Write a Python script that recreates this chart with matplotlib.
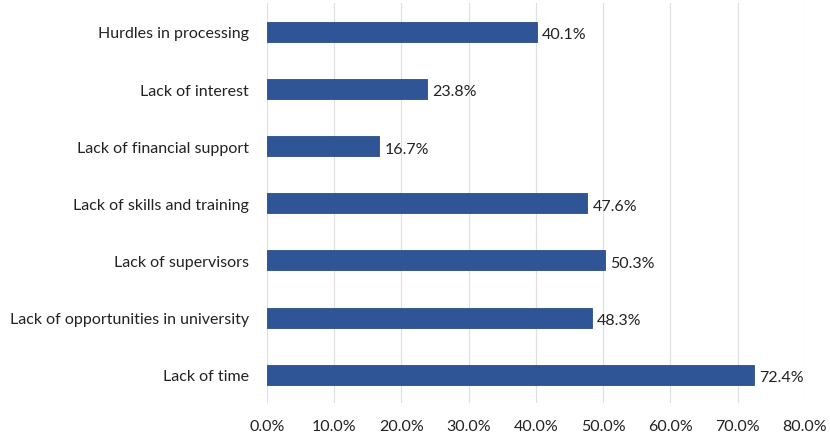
import matplotlib
matplotlib.use("Agg")
import matplotlib.pyplot as plt
import numpy as np

# ------------------------------------------------------------
# DATA
# ------------------------------------------------------------
categories = ["Lack of time",
              "Lack of opportunities in university",
              "Lack of supervisors",
              "Lack of skills and training",
              "Lack of financial support",
              "Lack of interest",
              "Hurdles in processing"]
values = [72.4, 48.3, 50.3, 47.6, 16.7, 23.8, 40.1]
xticks = [0, 10, 20, 30, 40, 50, 60, 70, 80]

plt.rcParams['font.family'] = ['Lato', 'DejaVu Sans']

# ------------------------------------------------------------
# BAR CHART
# ------------------------------------------------------------
fig = plt.figure(figsize=(8.3, 4.39), dpi=100)
ax = fig.add_axes([0.3217, 0.079, 0.648, 0.911])

y = np.arange(len(categories))
ax.barh(y, values, height=0.35, color="#2F5597", edgecolor="#2A4C88", linewidth=0.6, zorder=3)

# value labels right of each bar
for yi, v in zip(y, values):
    ax.text(v + 0.8, yi - 0.04, f"{v:.1f}%", va="center", ha="left", fontsize=11.5, color="#222222")

ax.set_xlim(0, 80)
ax.set_ylim(-0.5, len(categories) - 0.5)
ax.set_xticks(xticks)
ax.set_xticklabels([f"{t:.1f}%" for t in xticks], fontsize=11.5, color="#222222")
ax.set_yticks(y)
ax.set_yticklabels(categories, fontsize=11.5, color="#222222")
ax.tick_params(axis="x", length=0, pad=11)
ax.tick_params(axis="y", length=0, pad=13)

ax.grid(axis="x", color="#E0E0E0", linewidth=0.9, zorder=0)
for s in ax.spines.values():
    s.set_visible(False)

fig.savefig("out.png", dpi=100)
